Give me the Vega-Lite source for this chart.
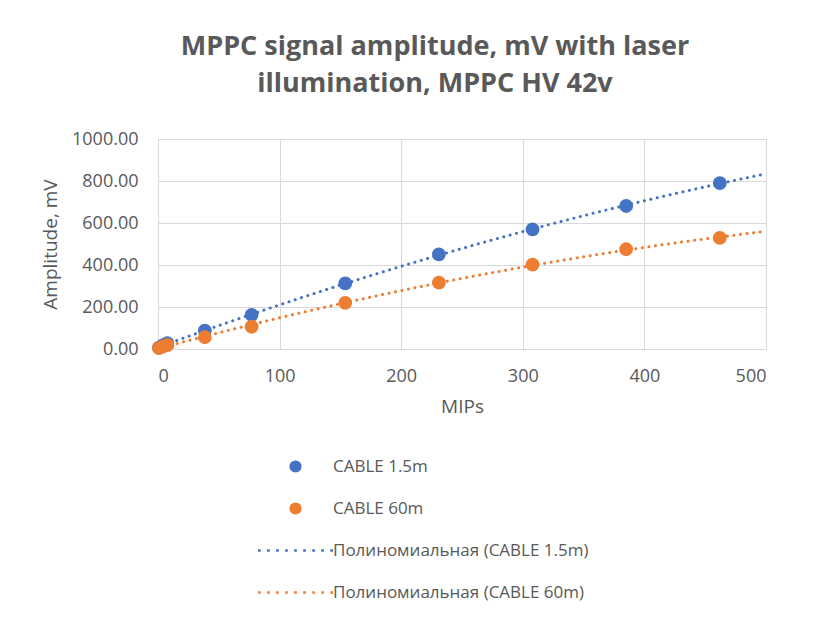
{
  "$schema": "https://vega.github.io/schema/vega-lite/v6.json",
  "width": 608,
  "height": 210,
  "autosize": {"type": "none"},
  "padding": {"left": 158, "top": 139, "right": 54, "bottom": 274},
  "background": "white",
  "title": {
    "text": ["MPPC signal amplitude, mV with laser", "illumination, MPPC HV 42v"],
    "fontSize": 27,
    "fontWeight": "bold",
    "font": "Open Sans",
    "color": "#595959",
    "lineHeight": 37,
    "anchor": "middle",
    "dx": -27,
    "offset": 32
  },
  "data": {
    "values": [
      {"series": "CABLE 1.5m", "trend": "Полиномиальная (CABLE 1.5m)", "MIPs": 0.77, "amp": 6},
      {"series": "CABLE 1.5m", "trend": "Полиномиальная (CABLE 1.5m)", "MIPs": 3.85, "amp": 17},
      {"series": "CABLE 1.5m", "trend": "Полиномиальная (CABLE 1.5m)", "MIPs": 7.7, "amp": 28},
      {"series": "CABLE 1.5m", "trend": "Полиномиальная (CABLE 1.5m)", "MIPs": 38.5, "amp": 88},
      {"series": "CABLE 1.5m", "trend": "Полиномиальная (CABLE 1.5m)", "MIPs": 77, "amp": 163},
      {"series": "CABLE 1.5m", "trend": "Полиномиальная (CABLE 1.5m)", "MIPs": 154, "amp": 312},
      {"series": "CABLE 1.5m", "trend": "Полиномиальная (CABLE 1.5m)", "MIPs": 231, "amp": 451},
      {"series": "CABLE 1.5m", "trend": "Полиномиальная (CABLE 1.5m)", "MIPs": 308, "amp": 570},
      {"series": "CABLE 1.5m", "trend": "Полиномиальная (CABLE 1.5m)", "MIPs": 385, "amp": 681},
      {"series": "CABLE 1.5m", "trend": "Полиномиальная (CABLE 1.5m)", "MIPs": 462, "amp": 790},
      {"series": "CABLE 60m", "trend": "Полиномиальная (CABLE 60m)", "MIPs": 0.77, "amp": 4},
      {"series": "CABLE 60m", "trend": "Полиномиальная (CABLE 60m)", "MIPs": 3.85, "amp": 11},
      {"series": "CABLE 60m", "trend": "Полиномиальная (CABLE 60m)", "MIPs": 7.7, "amp": 19},
      {"series": "CABLE 60m", "trend": "Полиномиальная (CABLE 60m)", "MIPs": 38.5, "amp": 56},
      {"series": "CABLE 60m", "trend": "Полиномиальная (CABLE 60m)", "MIPs": 77, "amp": 106},
      {"series": "CABLE 60m", "trend": "Полиномиальная (CABLE 60m)", "MIPs": 154, "amp": 220},
      {"series": "CABLE 60m", "trend": "Полиномиальная (CABLE 60m)", "MIPs": 231, "amp": 316},
      {"series": "CABLE 60m", "trend": "Полиномиальная (CABLE 60m)", "MIPs": 308, "amp": 402},
      {"series": "CABLE 60m", "trend": "Полиномиальная (CABLE 60m)", "MIPs": 385, "amp": 475},
      {"series": "CABLE 60m", "trend": "Полиномиальная (CABLE 60m)", "MIPs": 462, "amp": 529}
    ]
  },
  "encoding": {
    "x": {
      "field": "MIPs",
      "type": "quantitative",
      "title": "MIPs",
      "scale": {"domain": [0, 500], "nice": false},
      "axis": {"values": [0, 100, 200, 300, 400, 500], "labelPadding": 18, "titlePadding": 12}
    },
    "y": {
      "field": "amp",
      "type": "quantitative",
      "title": "Amplitude, mV",
      "scale": {"domain": [0, 1000], "nice": false},
      "axis": {"values": [0, 200, 400, 600, 800, 1000], "format": ".2f", "labelPadding": 20, "titlePadding": 11}
    }
  },
  "layer": [
    {
      "transform": [
        {"regression": "amp", "on": "MIPs", "method": "poly", "order": 2, "extent": [0, 500], "groupby": ["series", "trend"]}
      ],
      "mark": {"type": "line", "strokeWidth": 3, "strokeDash": [0.1, 6.5], "strokeCap": "round"},
      "encoding": {
        "color": {"field": "trend", "type": "nominal", "legend": null},
        "detail": {"field": "trend"}
      }
    },
    {
      "mark": {"type": "point", "filled": true, "size": 190, "opacity": 1},
      "encoding": {
        "color": {
          "field": "series",
          "type": "nominal",
          "scale": {
            "domain": ["CABLE 1.5m", "CABLE 60m", "Полиномиальная (CABLE 1.5m)", "Полиномиальная (CABLE 60m)"],
            "range": ["#4472C4", "#ED7D31", "#4472C4", "#ED7D31"]
          },
          "legend": {"title": null}
        },
        "shape": {
          "field": "series",
          "type": "nominal",
          "scale": {
            "domain": ["CABLE 1.5m", "CABLE 60m", "Полиномиальная (CABLE 1.5m)", "Полиномиальная (CABLE 60m)"],
            "range": [
              "circle",
              "circle",
              "M-6.12,-0.22h0.44v0.44h-0.44zM-4.645,-0.22h0.44v0.44h-0.44zM-3.17,-0.22h0.44v0.44h-0.44zM-1.695,-0.22h0.44v0.44h-0.44zM-0.22,-0.22h0.44v0.44h-0.44zM1.255,-0.22h0.44v0.44h-0.44zM2.73,-0.22h0.44v0.44h-0.44zM4.205,-0.22h0.44v0.44h-0.44zM5.68,-0.22h0.44v0.44h-0.44z",
              "M-6.12,-0.22h0.44v0.44h-0.44zM-4.645,-0.22h0.44v0.44h-0.44zM-3.17,-0.22h0.44v0.44h-0.44zM-1.695,-0.22h0.44v0.44h-0.44zM-0.22,-0.22h0.44v0.44h-0.44zM1.255,-0.22h0.44v0.44h-0.44zM2.73,-0.22h0.44v0.44h-0.44zM4.205,-0.22h0.44v0.44h-0.44zM5.68,-0.22h0.44v0.44h-0.44z"
            ]
          },
          "legend": {"title": null}
        }
      }
    }
  ],
  "resolve": {"legend": {"color": "independent", "shape": "independent"}},
  "config": {
    "font": "Open Sans",
    "view": {"stroke": "#d9d9d9", "strokeWidth": 1},
    "axis": {
      "labelFont": "Open Sans",
      "labelFontSize": 18,
      "labelColor": "#595959",
      "titleFont": "Open Sans",
      "titleFontSize": 19,
      "titleFontWeight": "normal",
      "titleColor": "#595959",
      "gridColor": "#d9d9d9",
      "gridWidth": 1,
      "domainColor": "#d9d9d9",
      "ticks": false
    },
    "legend": {
      "orient": "none",
      "legendX": 129,
      "legendY": 319,
      "direction": "vertical",
      "padding": 0,
      "labelFont": "Open Sans",
      "labelFontSize": 17,
      "labelColor": "#595959",
      "symbolSize": 150,
      "symbolStrokeWidth": 0,
      "labelOffset": 29,
      "rowPadding": 24,
      "labelLimit": 400
    }
  }
}
